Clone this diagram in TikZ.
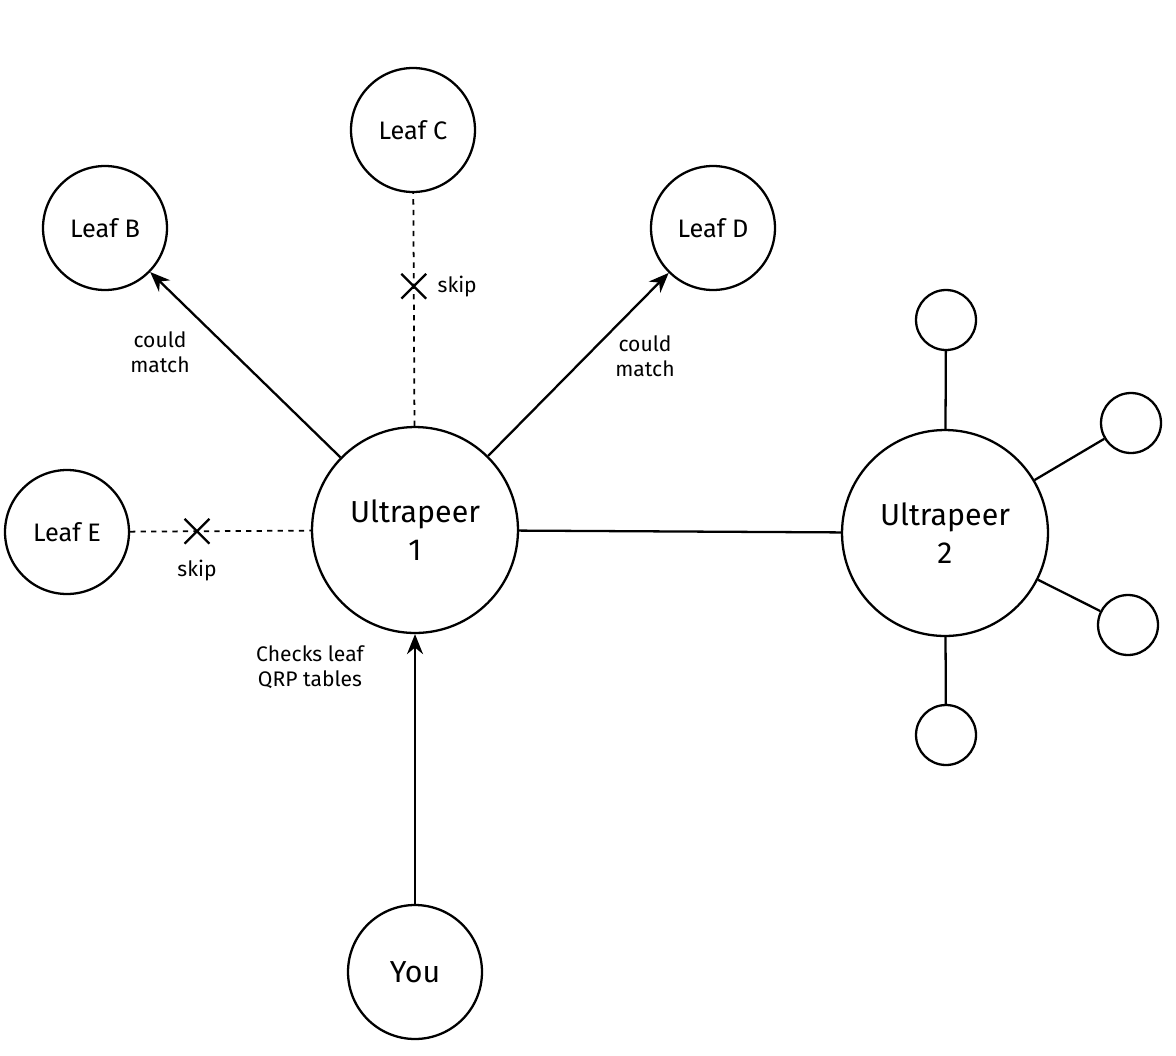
\documentclass[tikz,border=0pt]{standalone}
\usepackage{fontspec}
\setmainfont{Fira Sans}
\usetikzlibrary{shapes.misc,arrows.meta}
\tikzset{
  peer/.style={circle,draw,line width=1.3pt,fill=white,align=center,inner sep=0pt},
  leaf/.style={peer,minimum size=2.48cm,font=\Large},
  ultra/.style={peer,minimum size=4.12cm,font=\LARGE},
  tiny/.style={peer,minimum size=1.2cm},
  note/.style={align=center,font=\large},
  skipmark/.style={cross out,draw,solid,line width=1.3pt,minimum size=0.45cm,inner sep=0pt},
  hit/.style={line width=1.3pt,-{Stealth[length=4mm,width=3.2mm]}},
  miss/.style={line width=1pt,dashed}
}
\begin{document}
\begin{tikzpicture}[x=0.02cm,y=-0.02cm]
\useasboundingbox (0,0) rectangle (1176,1055);
% Knoten
\node[leaf] (leafc) at (413,130) {Leaf C};
\node[leaf] (leafb) at (105,228) {Leaf B};
\node[leaf] (leafd) at (713,228) {Leaf D};
\node[leaf] (leafe) at (67,532) {Leaf E};
\node[ultra] (up1) at (415,530) {Ultrapeer\\1};
\node[ultra] (up2) at (945,533) {Ultrapeer\\2};
\node[peer,minimum size=2.68cm,font=\LARGE] (you) at (415,972) {You};
\node[tiny] (t1) at (946,320) {};
\node[tiny] (t2) at (1131,423) {};
\node[tiny] (t3) at (1128,625) {};
\node[tiny] (t4) at (946,735) {};
% Verbindungen
\draw[hit] (up1) -- (leafb);
\draw[hit] (up1) -- (leafd);
\draw[hit] (you) -- (up1);
\draw[line width=1.3pt] (up1) -- (up2);
\foreach \t in {t1,t2,t3,t4}
  \draw[line width=1.3pt] (up2) -- (\t);
\draw[miss] (up1) -- (leafc) node[pos=0.6,skipmark] (xc) {};
\draw[miss] (leafe) -- (up1) node[pos=0.37,skipmark] (xe) {};
% Beschriftungen
\node[note,right=3pt] at (xc.east) {skip};
\node[note,below=6pt] at (xe.south) {skip};
\node[note] (cmb) at (160,352) {could\\match};
\node[note] (cmd) at (645,356) {could\\match};
\node[note] (qrp) at (310,667) {Checks leaf\\QRP tables};
\end{tikzpicture}
\end{document}
